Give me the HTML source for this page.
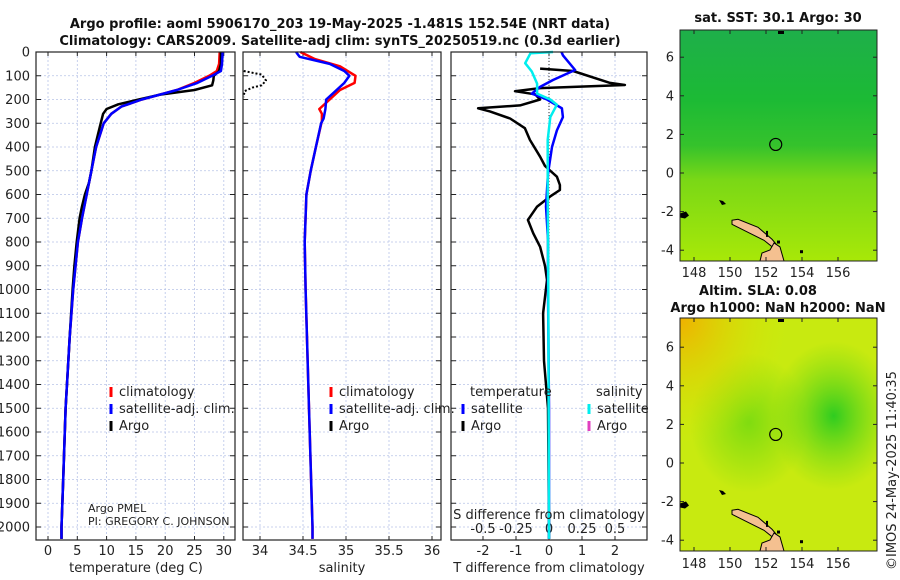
<!DOCTYPE html>
<html><head><meta charset="utf-8">
<style>
body{margin:0;background:#fff;}
svg{display:block;font-family:"DejaVu Sans","Liberation Sans",sans-serif;}
.t{font-size:13px;fill:#222;}
.b{font-weight:bold;font-size:13px;fill:#111;}
</style></head>
<body>
<svg id="s" width="900" height="580" viewBox="0 0 900 580" xmlns="http://www.w3.org/2000/svg">
<defs>
<linearGradient id="sstg" x1="0" y1="0" x2="0" y2="1">
<stop offset="0" stop-color="#1eaf4a"/><stop offset="0.3" stop-color="#1cba35"/><stop offset="0.5" stop-color="#35c22c"/><stop offset="0.65" stop-color="#7ad816"/><stop offset="1" stop-color="#a8e808"/>
</linearGradient>
<radialGradient id="slag" cx="0" cy="0" r="0.55">
<stop offset="0" stop-color="#f0b000"/><stop offset="1" stop-color="#d8e600" stop-opacity="0"/>
</radialGradient>
<radialGradient id="slag2" cx="0.78" cy="0.42" r="0.32">
<stop offset="0" stop-color="#2fcc20"/><stop offset="1" stop-color="#6ad815" stop-opacity="0"/>
</radialGradient>
<radialGradient id="slag3" cx="0.35" cy="0.45" r="0.3">
<stop offset="0" stop-color="#80dc10"/><stop offset="1" stop-color="#80dc10" stop-opacity="0"/>
</radialGradient>
</defs>
<g id="root"></g>
</svg>
<script>
// ---- data (depth in dbar) ----
const argoTDepth=[0,50,80,100,120,140,160,180,200,220,240,260,300,350,400,500,550,600,650,700,800,900,1000,1200,1500,1800,2000,2050];
const argoTVal=[29.5,29.5,29.2,28.3,28.2,28,25,19,15.5,12,10,9.4,9,8.5,8,7.4,7,6.3,5.8,5.4,4.9,4.5,4.2,3.7,3.0,2.6,2.3,2.3];
const climTDepth=[0,50,80,100,130,160,200,230,260,300,400,500,600,700,800,1000,1200,1500,1800,2000,2050];
const climTVal=[29.3,29.2,28.8,27.5,25,22,16,12.5,10.8,9.5,8.2,7.4,6.6,5.8,5.1,4.3,3.7,3.0,2.6,2.3,2.3];
const satTDepth=[0,50,80,100,130,160,200,230,260,300,400,500,600,700,800,1000,1200,1500,1800,2000,2050];
const satTVal=[29.8,29.7,29.5,28,25.5,22,16,12.5,10.8,9.5,8.2,7.4,6.6,5.8,5.1,4.3,3.7,3.0,2.6,2.3,2.3];
const climSDepth=[0,30,60,100,130,160,200,240,260,290,400,500,600,800,1000,1500,2000,2050];
const climSVal=[34.47,34.64,34.93,35.11,35.10,34.93,34.81,34.69,34.72,34.72,34.65,34.59,34.54,34.52,34.53,34.57,34.61,34.61];
const satSDepth=[0,10,20,50,80,100,130,170,200,240,280,300,400,500,600,800,1000,1500,2000,2050];
const satSVal=[34.42,34.44,34.46,34.81,34.98,35.04,34.98,34.86,34.77,34.76,34.74,34.71,34.65,34.59,34.54,34.52,34.53,34.57,34.61,34.61];
const argoSDepth=[80,95,120,140,150,165,190];
const argoSVal=[33.81,34.02,34.07,34.02,33.91,33.82,33.81];
const dTargoDepth=[70,80,130,139,152,165,178,200,225,237,250,280,321,370,441,480,525,560,581,609,651,707,763,820,900,960,1100,1300,1500,2000,2050];
const dTargoVal=[-0.27,0.73,1.85,2.3,-0.27,-1.03,-0.42,-0.27,-0.88,-2.15,-1.79,-1.18,-0.73,-0.58,-0.27,-0.12,0.24,0.33,0.33,0.03,-0.36,-0.64,-0.48,-0.27,-0.12,-0.06,-0.18,-0.15,-0.03,0,0];
const dTsatDepth=[0,14,76,118,147,175,200,237,274,330,400,512,651,790,1000,1500,2000,2050];
const dTsatVal=[0.38,0.42,0.79,0.12,-0.27,-0.52,-0.06,0.39,0.42,0.24,0.09,-0.03,-0.09,-0.03,-0.03,0,0,0];
const dSsatDepth=[0,5,47,82,133,175,200,222,274,370,600,1000,2000,2050];
const dSsatVal=[0.03,-0.14,-0.18,-0.13,-0.09,-0.09,0.01,0.06,0.01,-0.01,-0.01,-0.005,0,0];
const depthTicks=[0,100,200,300,400,500,600,700,800,900,1000,1100,1200,1300,1400,1500,1600,1700,1800,1900,2000];
const tTicks=[0,5,10,15,20,25,30];
const sTicks=[34,34.5,35,35.5,36];
const sTickLabels=["34","34.5","35","35.5","36"];
const dtTicks=[-2,-1,0,1,2];
const dsTicks=[-0.5,-0.25,0.25,0.5];
const dsTickLabels=["-0.5","-0.25","0.25","0.5"];
const lonTicks=[148,150,152,154,156];
const latTicks=[-4,-2,0,2,4,6];

const NS="http://www.w3.org/2000/svg";
const root=document.getElementById('root');
function mk(tag,at,parent,txt){const e=document.createElementNS(NS,tag);for(const k in at)e.setAttribute(k,at[k]);if(txt!==undefined)e.textContent=txt;(parent||root).appendChild(e);return e;}
const yD=d=>52+d*0.2375;
const Y0=52,Y1=540;
const panels=[
 {x0:36,x1:235,fx:v=>48+v*5.86,ticks:tTicks,labels:tTicks.map(String),name:'temperature-panel'},
 {x0:243,x1:441,fx:v=>260+(v-34)*86,ticks:sTicks,labels:sTickLabels,name:'salinity-panel'},
 {x0:451,x1:647,fx:v=>549+v*33,ticks:dtTicks,labels:dtTicks.map(String),name:'difference-panel'}
];
const fS3=v=>549+v*132;
panels.forEach((p,i)=>{
 const g=mk('g',{});
 
 
 p.g=g;
 p.ticks.forEach(t=>{const x=p.fx(t);
  mk('line',{x1:x,y1:Y0,x2:x,y2:Y1,stroke:'#b8c4e8','stroke-width':0.8,'stroke-dasharray':'2,2'},g);
  mk('line',{x1:x,y1:Y1,x2:x,y2:Y1-4,stroke:'#222'},g);
  mk('line',{x1:x,y1:Y0,x2:x,y2:Y0+4,stroke:'#222'},g);
 });
 depthTicks.forEach(d=>{const y=yD(d);
  mk('line',{x1:p.x0,y1:y,x2:p.x1,y2:y,stroke:'#b8c4e8','stroke-width':0.8,'stroke-dasharray':'2,2'},g);
  mk('line',{x1:p.x0,y1:y,x2:p.x0+5,y2:y,stroke:'#222'},g);
  mk('line',{x1:p.x1,y1:y,x2:p.x1-5,y2:y,stroke:'#222'},g);
 });
 if(i<2) p.ticks.forEach((t,k)=>mk('text',{x:p.fx(t),y:555,'text-anchor':'middle',class:'t'},g,p.labels[k]));
});
const dl=mk('g',{});


depthTicks.forEach(d=>mk('text',{x:30,y:yD(d)+4.5,'text-anchor':'end',class:'t'},dl,String(d)));
const p3=panels[2];
dtTicks.forEach(t=>mk('text',{x:p3.fx(t),y:555,'text-anchor':'middle',class:'t'},p3.g,String(t)));
dsTicks.forEach((t,k)=>mk('text',{x:fS3(t),y:533,'text-anchor':'middle',class:'t'},p3.g,dsTickLabels[k]));
mk('text',{x:549,y:533,'text-anchor':'middle',class:'t'},p3.g,'0');
mk('line',{x1:549,y1:Y0,x2:549,y2:Y1,stroke:'#333','stroke-dasharray':'1,2'},p3.g);

function line(depths,vals,fx,color,w,name,dash,parent){
 const pts=depths.map((d,i)=>fx(vals[i]).toFixed(1)+','+yD(d).toFixed(1)).join(' ');
 const e=mk('polyline',{points:pts,fill:'none',stroke:color,'stroke-width':w,'stroke-linejoin':'round'},parent);
 if(dash)e.setAttribute('stroke-dasharray',dash);
 
 
 return e;
}
const f1=panels[0].fx,f2=panels[1].fx,f3=panels[2].fx;
line(climTDepth,climTVal,f1,'#f00',2.5,'temp-climatology-line',null,panels[0].g);
line(argoTDepth,argoTVal,f1,'#000',2.5,'temp-argo-line',null,panels[0].g);
line(satTDepth,satTVal,f1,'#00f',2.5,'temp-satellite-line',null,panels[0].g);
line(climSDepth,climSVal,f2,'#f00',2.5,'sal-climatology-line',null,panels[1].g);
line(satSDepth,satSVal,f2,'#00f',2.5,'sal-satellite-line',null,panels[1].g);
line(argoSDepth,argoSVal,f2,'#000',2,'sal-argo-line','2,2',panels[1].g);
line(dTargoDepth,dTargoVal,f3,'#000',2.5,'tdiff-argo-line',null,panels[2].g);
line(dTsatDepth,dTsatVal,f3,'#00f',2.5,'tdiff-satellite-line',null,panels[2].g);
line(dSsatDepth,dSsatVal,fS3,'#0ee',2.5,'sdiff-satellite-line',null,panels[2].g);
panels.forEach(p=>mk('rect',{x:p.x0,y:Y0,width:p.x1-p.x0,height:Y1-Y0,fill:'none',stroke:'#222','stroke-width':1.2},p.g));
function legend(x,y,items,name){
 const g=mk('g',{});
 
 
 items.forEach((it,i)=>{const yy=y+i*17;
  mk('line',{x1:x,y1:yy-9,x2:x,y2:yy+1,stroke:it[1],'stroke-width':3},g);
  mk('text',{x:x+8,y:yy,class:'t'},g,it[0]);});
}
legend(111,396,[['climatology','#f00'],['satellite-adj. clim.','#00f'],['Argo','#000']],'temperature-legend');
legend(331,396,[['climatology','#f00'],['satellite-adj. clim.','#00f'],['Argo','#000']],'salinity-legend');
mk('text',{x:470,y:396,class:'t'},null,'temperature');
mk('text',{x:596,y:396,class:'t'},null,'salinity');
legend(463,413,[['satellite','#00f'],['Argo','#000']],'tdiff-legend');
legend(589,413,[['satellite','#0ee'],['Argo','#e040c0']],'sdiff-legend');
mk('text',{x:88,y:512,class:'t',style:'font-size:11px'},null,'Argo PMEL');
mk('text',{x:88,y:525,class:'t',style:'font-size:11px'},null,'PI: GREGORY C. JOHNSON');
mk('text',{x:549,y:519,'text-anchor':'middle',class:'t'},null,'S difference from climatology');
mk('text',{x:136,y:572,'text-anchor':'middle',class:'t'},null,'temperature (deg C)');
mk('text',{x:342,y:572,'text-anchor':'middle',class:'t'},null,'salinity');
mk('text',{x:549,y:572,'text-anchor':'middle',class:'t'},null,'T difference from climatology');
mk('text',{x:340,y:28,'text-anchor':'middle',class:'b'},null,'Argo profile: aoml 5906170_203 19-May-2025 -1.481S 152.54E (NRT data)');
mk('text',{x:340,y:45,'text-anchor':'middle',class:'b'},null,'Climatology: CARS2009. Satellite-adj clim: synTS_20250519.nc (0.3d earlier)');
// maps
const lonX=l=>694+(l-148)*18;
function mapFrame(y0,h,name){
 const g=mk('g',{});
 
 
 return g;
}
const m1=mapFrame(30,231,'sst-map');
mk('rect',{x:680,y:30,width:197,height:231,fill:'url(#sstg)'},m1);
const m2=mapFrame(318,233,'sla-map');
mk('rect',{x:680,y:318,width:197,height:233,fill:'#c8ea10'},m2);
mk('rect',{x:680,y:318,width:197,height:233,fill:'url(#slag3)'},m2);
mk('rect',{x:680,y:318,width:197,height:233,fill:'url(#slag2)'},m2);
mk('rect',{x:680,y:318,width:197,height:233,fill:'url(#slag)'},m2);
[[m1,30,261,173,277],[m2,318,551,463,568]].forEach(([g,y0,y1,zeroY,labY])=>{
 const latY=l=>zeroY-l*19.3;
 mk('path',{d:'M732 '+latY(-2.45)+' l6 -1 l20 8 l14 12 l6 7 l-4 2 l-10 -8 l-20 -10 l-12 -6 z',fill:'#f4c090',stroke:'#000','stroke-width':1},g);
 mk('path',{d:'M760 '+y1+' l2 -8 l8 -3 l4 -7 l6 4 l4 14 z',fill:'#f4c090',stroke:'#000','stroke-width':1},g);
 mk('path',{d:'M680 '+latY(-2.1)+' l6 -2 l3 4 l-4 3 l-5 -1 z',fill:'#000'},g);
 mk('path',{d:'M719 '+latY(-1.4)+' l4 1 l3 3 l-4 1 z',fill:'#000'},g);
 mk('rect',{x:766,y:latY(-3.0),width:2,height:6,fill:'#000'},g);
 mk('rect',{x:777,y:latY(-3.5),width:3,height:3,fill:'#000'},g);
 mk('rect',{x:800,y:latY(-4.0),width:3,height:3,fill:'#000'},g);
 mk('rect',{x:778,y:y0+1,width:6,height:3,fill:'#000'},g);
 mk('circle',{cx:lonX(152.54),cy:latY(1.48),r:6,fill:'none',stroke:'#000','stroke-width':1.2},g);
 mk('rect',{x:680,y:y0,width:197,height:y1-y0,fill:'none',stroke:'#222'},g);
 lonTicks.forEach(l=>{mk('text',{x:lonX(l),y:labY,'text-anchor':'middle',class:'t'},g,String(l));
  mk('line',{x1:lonX(l),y1:y1,x2:lonX(l),y2:y1-4,stroke:'#222'},g);
  mk('line',{x1:lonX(l),y1:y0,x2:lonX(l),y2:y0+4,stroke:'#222'},g);});
 latTicks.forEach(l=>{mk('text',{x:674,y:latY(l)+4.5,'text-anchor':'end',class:'t'},g,String(l));
  mk('line',{x1:680,y1:latY(l),x2:684,y2:latY(l),stroke:'#222'},g);
  mk('line',{x1:877,y1:latY(l),x2:873,y2:latY(l),stroke:'#222'},g);});
});
mk('text',{x:778,y:22,'text-anchor':'middle',class:'b'},null,'sat. SST: 30.1 Argo: 30');
mk('text',{x:758,y:295,'text-anchor':'middle',class:'b'},null,'Altim. SLA: 0.08');
mk('text',{x:778,y:312,'text-anchor':'middle',class:'b'},null,'Argo h1000: NaN h2000: NaN');
mk('text',{x:0,y:0,class:'t',transform:'translate(896,570) rotate(-90)'},null,'©IMOS 24-May-2025 11:40:35');
</script>
</body></html>
